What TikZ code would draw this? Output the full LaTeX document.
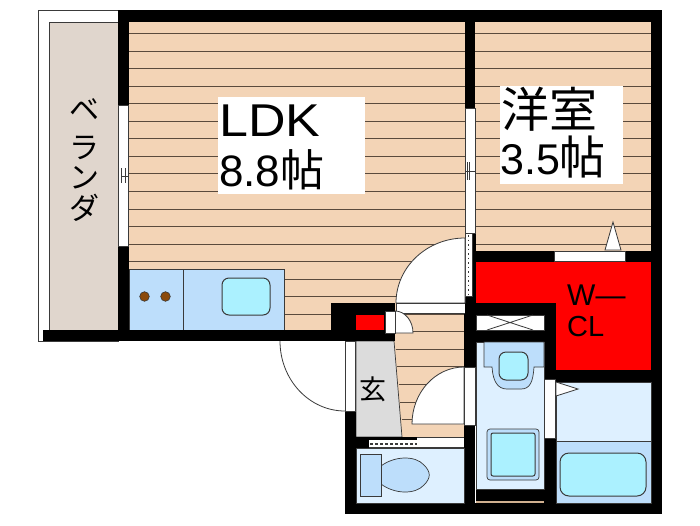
\documentclass[tikz,border=0pt]{standalone}
\usepackage{fontspec}
\setmainfont{Liberation Sans}
\newfontfamily\cjk{Noto Sans CJK JP}
\definecolor{floorc}{HTML}{F3D4B6}
\definecolor{plank}{HTML}{5A4A3C}
\definecolor{balc}{HTML}{E0D6CD}
\definecolor{fixt}{HTML}{BDDEFB}
\definecolor{wet}{HTML}{DEF0FF}
\definecolor{aqua}{HTML}{ABF1FF}
\definecolor{ent}{HTML}{DCDCDC}
\definecolor{burner}{HTML}{8B4A0B}
\definecolor{tan}{HTML}{D0B090}
\definecolor{edge}{HTML}{3A3A3A}
\tikzset{
 wall/.style={fill=black,draw=none},
 opening/.style={fill=white,draw=edge,line width=.7pt},
 fixture/.style={fill=fixt,draw=edge,line width=.7pt},
 basin/.style={fill=aqua,draw=edge,line width=1pt,rounded corners=6pt},
 plankline/.style={draw=plank,line width=1pt},
 whitebox/.style={fill=white,draw=none},
 bigtext/.style={inner sep=0pt,anchor=base west,text=black},
}
\begin{document}
\begin{tikzpicture}[x=1pt,y=-1pt]
\useasboundingbox (0,0) rectangle (700,525);
\fill[white] (0,0) rectangle (700,525);
% balcony
\draw[edge,line width=.7pt,fill=white] (118,341) -- (38,341) -- (38,10) -- (118,10) -- cycle;
\fill[balc,draw=edge,line width=.7pt] (49,330) -- (49,22) -- (118,22) -- (118,330) -- cycle;
% floors
\fill[floorc] (129,22) rectangle (651,331);
\fill[floorc] (394,331) rectangle (464,437);
% plank lines
\foreach \k in {0,...,16}{
  \draw[plankline] (129,{33.5+17.55*\k}) -- (651,{33.5+17.55*\k});
}
\foreach \k in {17,...,22}{
  \draw[plankline] ({394+(33.5+17.55*\k-341)*8/96+1},{33.5+17.55*\k}) -- (464,{33.5+17.55*\k});
}
% text boxes
\fill[whitebox] (218,97) rectangle (365,194);
\fill[whitebox] (500,86) rectangle (623,184);
% entrance
\fill[ent,draw=edge,line width=.7pt] (356,341) -- (394,341) -- (402,437) -- (356,437) -- cycle;
% kitchen
\fill[fixture] (129,269) rectangle (284,330);
\draw[edge,line width=.8pt] (183,269) -- (183,330);
\draw[basin,rounded corners=7pt] (222,278) rectangle (270,315);
\fill[burner,draw=edge,line width=.6pt] (144.5,296.5) circle (4.8);
\fill[burner,draw=edge,line width=.6pt] (165.5,296.5) circle (4.8);
% outer walls
\fill[wall] (118,10) rectangle (662,22);
\fill[wall] (118,10) rectangle (129,105);
\fill[wall] (118,246) rectangle (129,341);
\fill[wall] (651,10) rectangle (662,514);
\fill[wall] (43,330) rectangle (395,341);
\fill[wall] (331,303) rectangle (395,341);
\fill[wall] (465,22) rectangle (475,108);
\fill[wall] (472,233) rectangle (476,303);
\fill[wall] (464,296) rectangle (476,367);
\fill[wall] (464,425) rectangle (475,514);
\fill[wall] (345,411) rectangle (356,514);
\fill[wall] (345,503) rectangle (662,514);
\fill[wall] (345,437) rectangle (369,448);
\fill[wall] (369,437) rectangle (417,440);
% closet
\fill[wall] (475,251) rectangle (662,262);
\fill[red] (476,262) rectangle (651,303);
\fill[red] (556,303) rectangle (651,370);
\fill[wall] (476,303) rectangle (556,315);
\fill[wall] (476,330) rectangle (556,342);
\fill[wall] (544,303) rectangle (556,342);
\fill[wall] (556,370) rectangle (662,382);
\fill[wall] (544,342) rectangle (556,503);
\fill[wall] (476,489) rectangle (544,503);
% windows
\draw[opening] (118.5,105) rectangle (128.5,246);
\draw[edge,line width=.6pt] (121,168) -- (121,183) (125,168) -- (125,183) (122,176) -- (128.5,176);
\draw[opening,fill=white] (465,108) rectangle (475,233);
\draw[edge,line width=.6pt] (467,162) -- (467,180) (469,162) -- (469,180) (465,171) -- (475,171);
\draw[opening] (465,233) rectangle (472,296);
\draw[edge,line width=1pt,dash pattern=on 1.5pt off 3pt] (468.5,235) -- (468.5,295);
% door LDK/hall
\fill[white,draw=edge,line width=.8pt] (396,303) arc[start angle=180,end angle=270,x radius=69,y radius=65] -- (465,303) -- cycle;
\fill[white] (396,303) rectangle (465,313);
\draw[edge,line width=.8pt] (396,303) -- (465,303) (396,303) -- (396,313) -- (465,313);
% small door + meter
\fill[red] (356,315) rectangle (384,330);
\draw[fill=white,draw=edge,line width=.8pt] (395,311) arc[start angle=270,end angle=360,x radius=18,y radius=22] -- (395,333) -- cycle;
\fill[white,draw=edge,line width=.5pt] (385,311) rectangle (395,333);
% entrance door
\fill[white,draw=edge,line width=.7pt] (345,341) rectangle (355,411);
\draw[edge,line width=.8pt] (280,341) arc[start angle=180,end angle=90,x radius=65,y radius=70];
% hall to washroom door
\fill[white,draw=edge,line width=.8pt] (412,424) arc[start angle=180,end angle=270,x radius=52,y radius=57] -- (464,424) -- cycle;
\fill[white,draw=edge,line width=.7pt] (464,367) rectangle (475,425);
% strip
\fill[white] (369,440) rectangle (464,448);
\fill[white] (417,437) rectangle (464,440);
\draw[edge,line width=.7pt] (417,437) -- (464,437);
\draw[edge,line width=1.2pt,dash pattern=on 2.5pt off 2.5pt] (370,444) -- (417,444);
\draw[edge,line width=.7pt] (369,447) -- (464,447);
% toilet room
\fill[wet,draw=edge,line width=.7pt] (356,448) rectangle (464,503);
\draw[fixture] (381,466) .. controls (394,456) and (415,455) .. (424,465) .. controls (431,472) and (431,478) .. (424,485) .. controls (415,495) and (394,494) .. (381,484) -- cycle;
\draw[fixture] (360,454) rectangle (381,496);
% washroom
\fill[wet,draw=edge,line width=.7pt] (476,342) rectangle (544,489);
\draw[fixture] (484,342) -- (484,367) -- (492,367) .. controls (493,382) and (498,389) .. (507,389) -- (521,389) .. controls (530,389) and (533,382) .. (534,367) -- (544,367) -- (544,342) -- cycle;
\draw[basin,rounded corners=7pt] (499,352) rectangle (528,380);
\draw[fixture,rounded corners=3pt] (487,429) rectangle (539,480);
\draw[basin,rounded corners=2pt] (491,433) rectangle (535,476);
% closet vent
\fill[white,draw=edge,line width=.3pt] (476,315) rectangle (544,330);
\draw[edge,line width=.8pt] (487,315) -- (533,330) (533,315) -- (487,330);
% tan strip
\fill[tan] (476,501) rectangle (544,503);
% bathroom
\fill[wet,draw=edge,line width=.7pt] (556,382) rectangle (651,441);
\fill[fixt,draw=edge,line width=.7pt] (556,441) rectangle (651,503);
\draw[basin,rounded corners=9pt] (560,453) rectangle (646,496);
\fill[white,draw=edge,line width=.7pt] (544,379) rectangle (555,438);
\fill[white,draw=edge,line width=.8pt] (556,382) -- (578,389) -- (556,396) -- cycle;
% closet door
\fill[white,draw=edge,line width=.4pt] (554,251) rectangle (625,261);
\fill[white,draw=edge,line width=.8pt] (605,250) -- (613,222) -- (621,250) -- cycle;
% texts
\node[bigtext,xscale=1.13,font=\fontsize{46}{46}\selectfont] (ldk) at (219,136) {LDK};
\node[bigtext,font=\fontsize{44}{44}\selectfont] (ldkn) at (219,186) {8.8{\cjk 帖}};
\node[bigtext,font=\fontsize{48}{48}\selectfont\cjk] (yo) at (501,127) {洋室};
\node[bigtext,font=\fontsize{43}{43}\selectfont] (yon) at (500,174) {3.5{\fontsize{46}{46}\selectfont\cjk 帖}};
\node[bigtext,font=\fontsize{30}{30}\selectfont] (w) at (567,305) {W—};
\node[bigtext,font=\fontsize{29}{29}\selectfont] (cl) at (567,336) {CL};
\node[inner sep=0pt,font=\fontsize{27}{27}\selectfont\cjk] (gen) at (373,389) {玄};
\node[inner sep=0pt,font=\fontsize{30}{30}\selectfont\cjk] (b1) at (84,110) {ベ};
\node[inner sep=0pt,font=\fontsize{30}{30}\selectfont\cjk] (b2) at (84,148) {ラ};
\node[inner sep=0pt,font=\fontsize{30}{30}\selectfont\cjk] (b3) at (84,178) {ン};
\node[inner sep=0pt,font=\fontsize{30}{30}\selectfont\cjk] (b4) at (84,208) {ダ};
\end{tikzpicture}
\end{document}
